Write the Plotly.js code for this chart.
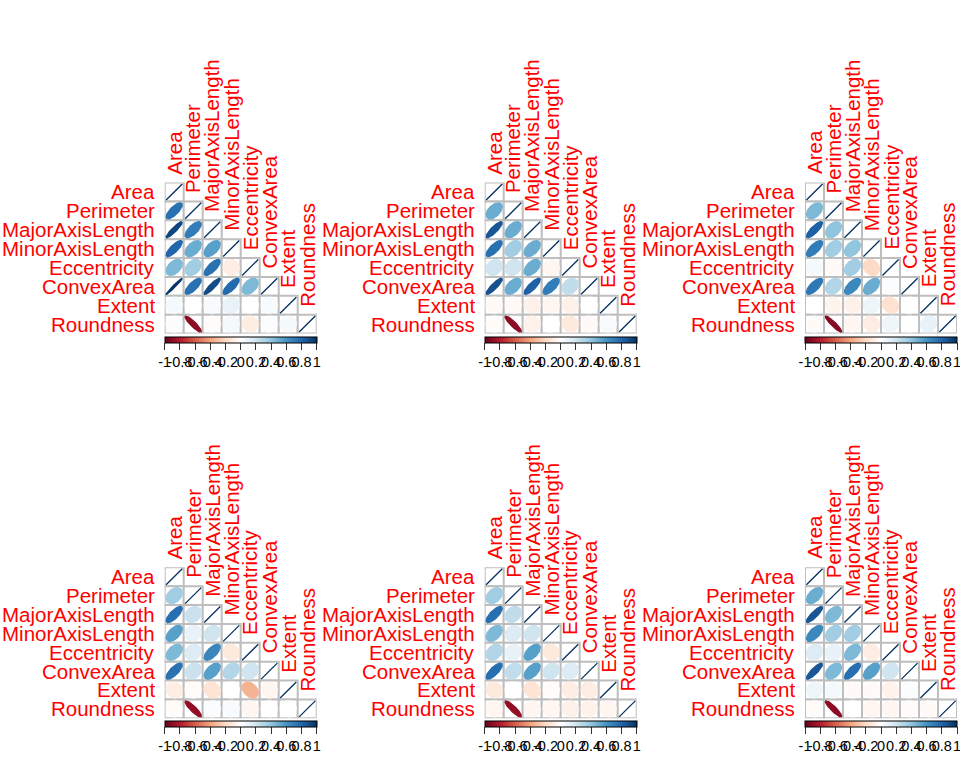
<!DOCTYPE html>
<html><head><meta charset="utf-8">
<script src="https://cdn.plot.ly/plotly-3.0.1.min.js"></script>
<style>html,body{margin:0;padding:0;background:#fff}</style>
</head><body><div id="chart" style="width:960px;height:768px"></div>
<script>
// ---------------- DATA ----------------
const variables = ['Area','Perimeter','MajorAxisLength','MinorAxisLength','Eccentricity','ConvexArea','Extent','Roundness'];

// Lower-triangle correlations: row i holds r(i, j) for j < i
const panel1 = [
  [],
  [0.75],
  [0.92, 0.70],
  [0.80, 0.50, 0.55],
  [0.45, 0.35, 0.75, -0.10],
  [0.98, 0.75, 0.90, 0.78, 0.45],
  [0.05, 0.00, 0.03, 0.10, 0.00, 0.03],
  [0.02, -0.90, -0.02, 0.05, -0.10, 0.02, 0.05]
];
const panel2 = [
  [],
  [0.50],
  [0.86, 0.50],
  [0.75, 0.35, 0.50],
  [0.20, 0.20, 0.50, -0.05],
  [0.88, 0.50, 0.82, 0.70, 0.25],
  [-0.03, -0.03, -0.08, -0.05, -0.08, 0.00],
  [-0.02, -0.90, -0.07, 0.00, -0.12, -0.03, 0.03]
];
const panel3 = [
  [],
  [0.45],
  [0.82, 0.40],
  [0.70, 0.35, 0.40],
  [0.05, -0.03, 0.35, -0.20],
  [0.72, 0.30, 0.65, 0.50, 0.02],
  [0.00, -0.06, -0.08, 0.08, -0.16, 0.00],
  [-0.03, -0.92, -0.05, -0.10, 0.07, 0.00, 0.10]
];
const panel4 = [
  [],
  [0.35],
  [0.76, 0.22],
  [0.55, 0.10, 0.20],
  [0.45, 0.15, 0.66, -0.12],
  [0.75, 0.22, 0.55, 0.30, 0.20],
  [-0.10, -0.02, -0.15, 0.00, -0.35, -0.05],
  [-0.02, -0.88, 0.02, 0.03, -0.05, 0.00, 0.01]
];
const panel5 = [
  [],
  [0.35],
  [0.76, 0.25],
  [0.45, 0.15, 0.20],
  [0.30, 0.10, 0.55, -0.12],
  [0.76, 0.25, 0.55, 0.20, 0.15],
  [-0.12, 0.00, -0.15, -0.02, -0.10, -0.10],
  [-0.05, -0.88, -0.05, -0.05, -0.08, -0.07, -0.05]
];
const panel6 = [
  [],
  [0.50],
  [0.86, 0.45],
  [0.65, 0.35, 0.35],
  [0.15, 0.10, 0.45, -0.10],
  [0.86, 0.45, 0.76, 0.55, 0.20],
  [0.07, 0.05, -0.03, -0.03, -0.07, 0.02],
  [-0.02, -0.90, 0.00, -0.05, -0.05, -0.02, -0.03]
];
const panels = [panel1, panel2, panel3, panel4, panel5, panel6];

const colorbarTicks = [-1, -0.8, -0.6, -0.4, -0.2, 0, 0.2, 0.4, 0.6, 0.8, 1];
const colorbarTickLabels = ['-1', '-0.8', '-0.6', '-0.4', '-0.2', '0', '0.2', '0.4', '0.6', '0.8', '1'];

// RdBu palette anchors (corrplot COL2('RdBu'))
const paletteAnchors = ['#67001F','#B2182B','#D6604D','#F4A582','#FDDBC7','#FFFFFF','#D1E5F0','#92C5DE','#4393C3','#2166AC','#053061'];

// ---------------- LAYOUT GEOMETRY ----------------
const W = 960, H = 768;
const panelLeft = [164.7, 484.7, 805.0];
const panelTop = [182.5, 567.3];
const gridW = 152, gridH = 151;
const n = variables.length;
const labelFont = {size:20.5, color:'#ff0000', family:'Liberation Sans, Arial, sans-serif'};

function hexToRgb(h){ return [parseInt(h.slice(1,3),16), parseInt(h.slice(3,5),16), parseInt(h.slice(5,7),16)]; }
function colorFor(r){
  const t = (Math.max(-1, Math.min(1, r)) + 1) / 2 * (paletteAnchors.length - 1);
  const i = Math.min(Math.floor(t), paletteAnchors.length - 2);
  const f = t - i;
  const a = hexToRgb(paletteAnchors[i]), b = hexToRgb(paletteAnchors[i+1]);
  const c = a.map((v,k)=>Math.round(v + (b[k]-v)*f));
  return 'rgb(' + c.join(',') + ')';
}
const colorscale = paletteAnchors.map((c,i)=>[i/(paletteAnchors.length-1), c]);

function corrValue(p, i, j){
  if (i === j) return 1;
  return i > j ? panels[p][i][j] : panels[p][j][i];
}

const traces = [];
const layout = {
  width: W, height: H,
  margin: {l:0, r:0, t:0, b:0},
  paper_bgcolor: '#ffffff', plot_bgcolor: 'rgba(0,0,0,0)',
  showlegend: false,
  font: {family: 'Liberation Sans, Arial, sans-serif'},
  shapes: [], annotations: []
};

for (let p = 0; p < panels.length; p++) {
  const col = p % 3, row = Math.floor(p / 3);
  const L = panelLeft[col], T = panelTop[row];
  const xa = p === 0 ? 'x' : 'x' + (p+1);
  const ya = p === 0 ? 'y' : 'y' + (p+1);
  const xk = p === 0 ? 'xaxis' : 'xaxis' + (p+1);
  const yk = p === 0 ? 'yaxis' : 'yaxis' + (p+1);
  const ca = p === 0 ? 'coloraxis' : 'coloraxis' + (p+1);
  layout[xk] = {domain: [L/W, (L+gridW)/W], range: [0.5, n+0.5], showgrid:false, zeroline:false,
                showticklabels:false, ticks:'', showline:false, fixedrange:true, anchor: ya};
  layout[yk] = {domain: [1-(T+gridH)/H, 1-T/H], range: [n+0.5, 0.5], showgrid:false, zeroline:false,
                showticklabels:false, ticks:'', showline:false, fixedrange:true, anchor: xa};

  // grid cells (lower triangle incl. diagonal)
  for (let i = 0; i < n; i++) {
    for (let j = 0; j <= i; j++) {
      layout.shapes.push({type:'rect', xref:xa, yref:ya, x0:j+0.5, x1:j+1.5, y0:i+0.5, y1:i+1.5,
        line:{color:'#bebebe', width:2}, fillcolor:'#ffffff', layer:'below'});
    }
  }

  // ellipses
  const cx = [], cy = [], cv = [];
  for (let i = 0; i < n; i++) {
    for (let j = 0; j <= i; j++) {
      const r = corrValue(p, i, j);
      const a = Math.acos(Math.max(-1, Math.min(1, r)));
      const xs = [], ys = [];
      const m = 99;
      for (let k = 0; k < m; k++) {
        const t = 2*Math.PI*k/(m-1);
        xs.push(j + 1 + 0.85*Math.cos(t + a/2)/2);
        ys.push(i + 1 - 0.85*Math.cos(t - a/2)/2);
      }
      const c = colorFor(r);
      traces.push({type:'scatter', mode:'lines', x:xs, y:ys, xaxis:xa, yaxis:ya,
        fill:'toself', fillcolor:c, line:{color:c, width:1.3}, hoverinfo:'skip'});
      cx.push(j+1); cy.push(i+1); cv.push(r);
    }
  }
  // carrier trace for colorbar
  traces.push({type:'scatter', mode:'markers', x:cx, y:cy, xaxis:xa, yaxis:ya,
    marker:{color:cv, coloraxis:ca, size:1, opacity:0}, hoverinfo:'skip'});

  layout[ca] = {cmin:-1, cmax:1, colorscale: colorscale,
    colorbar: {orientation:'h', x: L/W, xanchor:'left', y: 1-(T+gridH+3)/H, yanchor:'top',
      len: gridW, lenmode:'pixels', thickness:6, thicknessmode:'pixels', xpad:0, ypad:0,
      outlinewidth:1, outlinecolor:'#000000',
      tickmode:'array', tickvals: colorbarTicks, ticktext: colorbarTickLabels, tickangle:0,
      ticklabeloverflow:'allow',
      ticks:'outside', ticklen:7, tickwidth:1, tickcolor:'#333333',
      tickfont:{size:14.5, color:'#000000', family:'Liberation Sans, Arial, sans-serif'}}};

  // row labels
  for (let i = 0; i < n; i++) {
    layout.annotations.push({xref:xa, yref:ya, x:0.5, y:i+1, text:variables[i], showarrow:false,
      xanchor:'right', yanchor:'middle', xshift:-8, font:labelFont});
  }
  // column labels (on top of diagonal cells)
  for (let j = 0; j < n; j++) {
    layout.annotations.push({xref:xa, yref:ya, x:j+1, y:j+0.5, text:variables[j], showarrow:false,
      textangle:-90, xanchor:'center', yanchor:'bottom', yshift:6, font:labelFont});
  }
}

Plotly.newPlot('chart', traces, layout, {staticPlot:true, displayModeBar:false});
</script>
</body></html>
